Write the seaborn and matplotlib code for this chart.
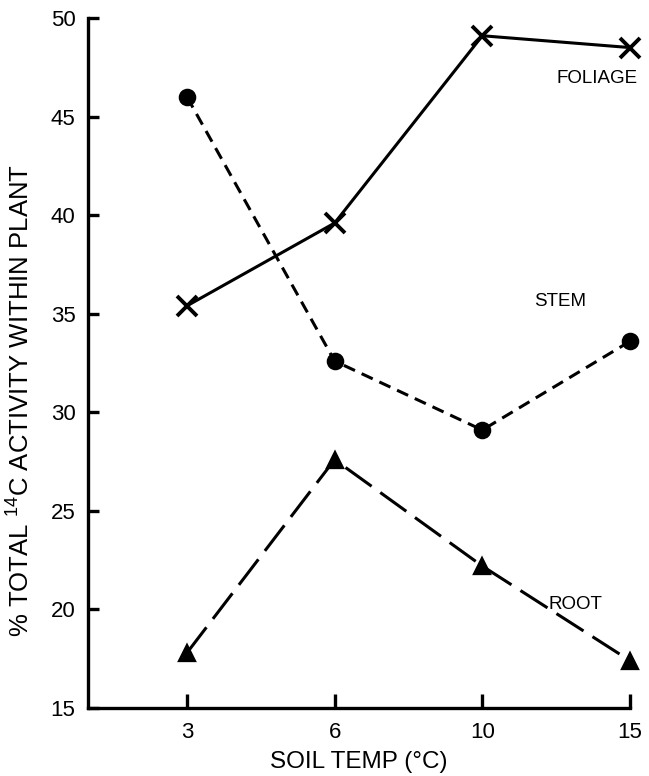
import pandas as pd
import seaborn as sns
import matplotlib.pyplot as plt

soil_temp = ["3", "6", "10", "15"]
foliage = [35.4, 39.6, 49.1, 48.5]
stem = [46.0, 32.6, 29.1, 33.6]
root = [17.8, 27.6, 22.2, 17.4]

sns.set_theme(style="ticks")
plt.rcParams["font.family"] = ["Liberation Sans", "DejaVu Sans"]
plt.rcParams["mathtext.default"] = "regular"
for key in ["text.color", "axes.labelcolor", "xtick.color", "ytick.color", "axes.edgecolor"]:
    plt.rcParams[key] = "black"

fig = plt.figure(figsize=(6.49, 7.76), dpi=100)
ax = fig.add_axes([0.1356, 0.0876, 0.8351, 0.8892])

lw = 2.2
sns.pointplot(x=soil_temp, y=foliage, order=soil_temp, color="black", marker="x",
              markersize=14.5, markeredgewidth=2.8, linewidth=lw, linestyle="-",
              errorbar=None, ax=ax, clip_on=False)
sns.pointplot(x=soil_temp, y=stem, order=soil_temp, color="black", marker="o",
              markersize=11, linewidth=lw, linestyle=(0, (4, 2.4)),
              errorbar=None, ax=ax, clip_on=False)
sns.pointplot(x=soil_temp, y=root, order=soil_temp, color="black", marker="^",
              markersize=12, linewidth=lw, linestyle=(0, (10.5, 3.5)),
              errorbar=None, ax=ax, clip_on=False)

ax.set_xlim(-0.67, 3.0)
ax.set_ylim(15, 50)
ax.set_yticks([15, 20, 25, 30, 35, 40, 45, 50])

sns.despine(ax=ax)
for side in ["left", "bottom"]:
    ax.spines[side].set_linewidth(2.4)
ax.tick_params(axis="y", direction="in", length=8, width=2.4, labelsize=16, pad=9)
ax.tick_params(axis="x", direction="in", length=10, width=2.4, labelsize=16, pad=10)

ax.set_xlabel("SOIL TEMP (°C)", fontsize=17.5, labelpad=6)
ax.set_ylabel("% TOTAL $^{14}$C ACTIVITY WITHIN PLANT", fontsize=18.5)
ax.yaxis.set_label_coords(-0.098, 0.446)

ax.text(2.78, 46.95, "FOLIAGE", fontsize=13.5, ha="center", va="center")
ax.text(2.53, 35.6, "STEM", fontsize=13.5, ha="center", va="center")
ax.text(2.63, 20.25, "ROOT", fontsize=13.5, ha="center", va="center")

fig.savefig("out.png", dpi=100)
